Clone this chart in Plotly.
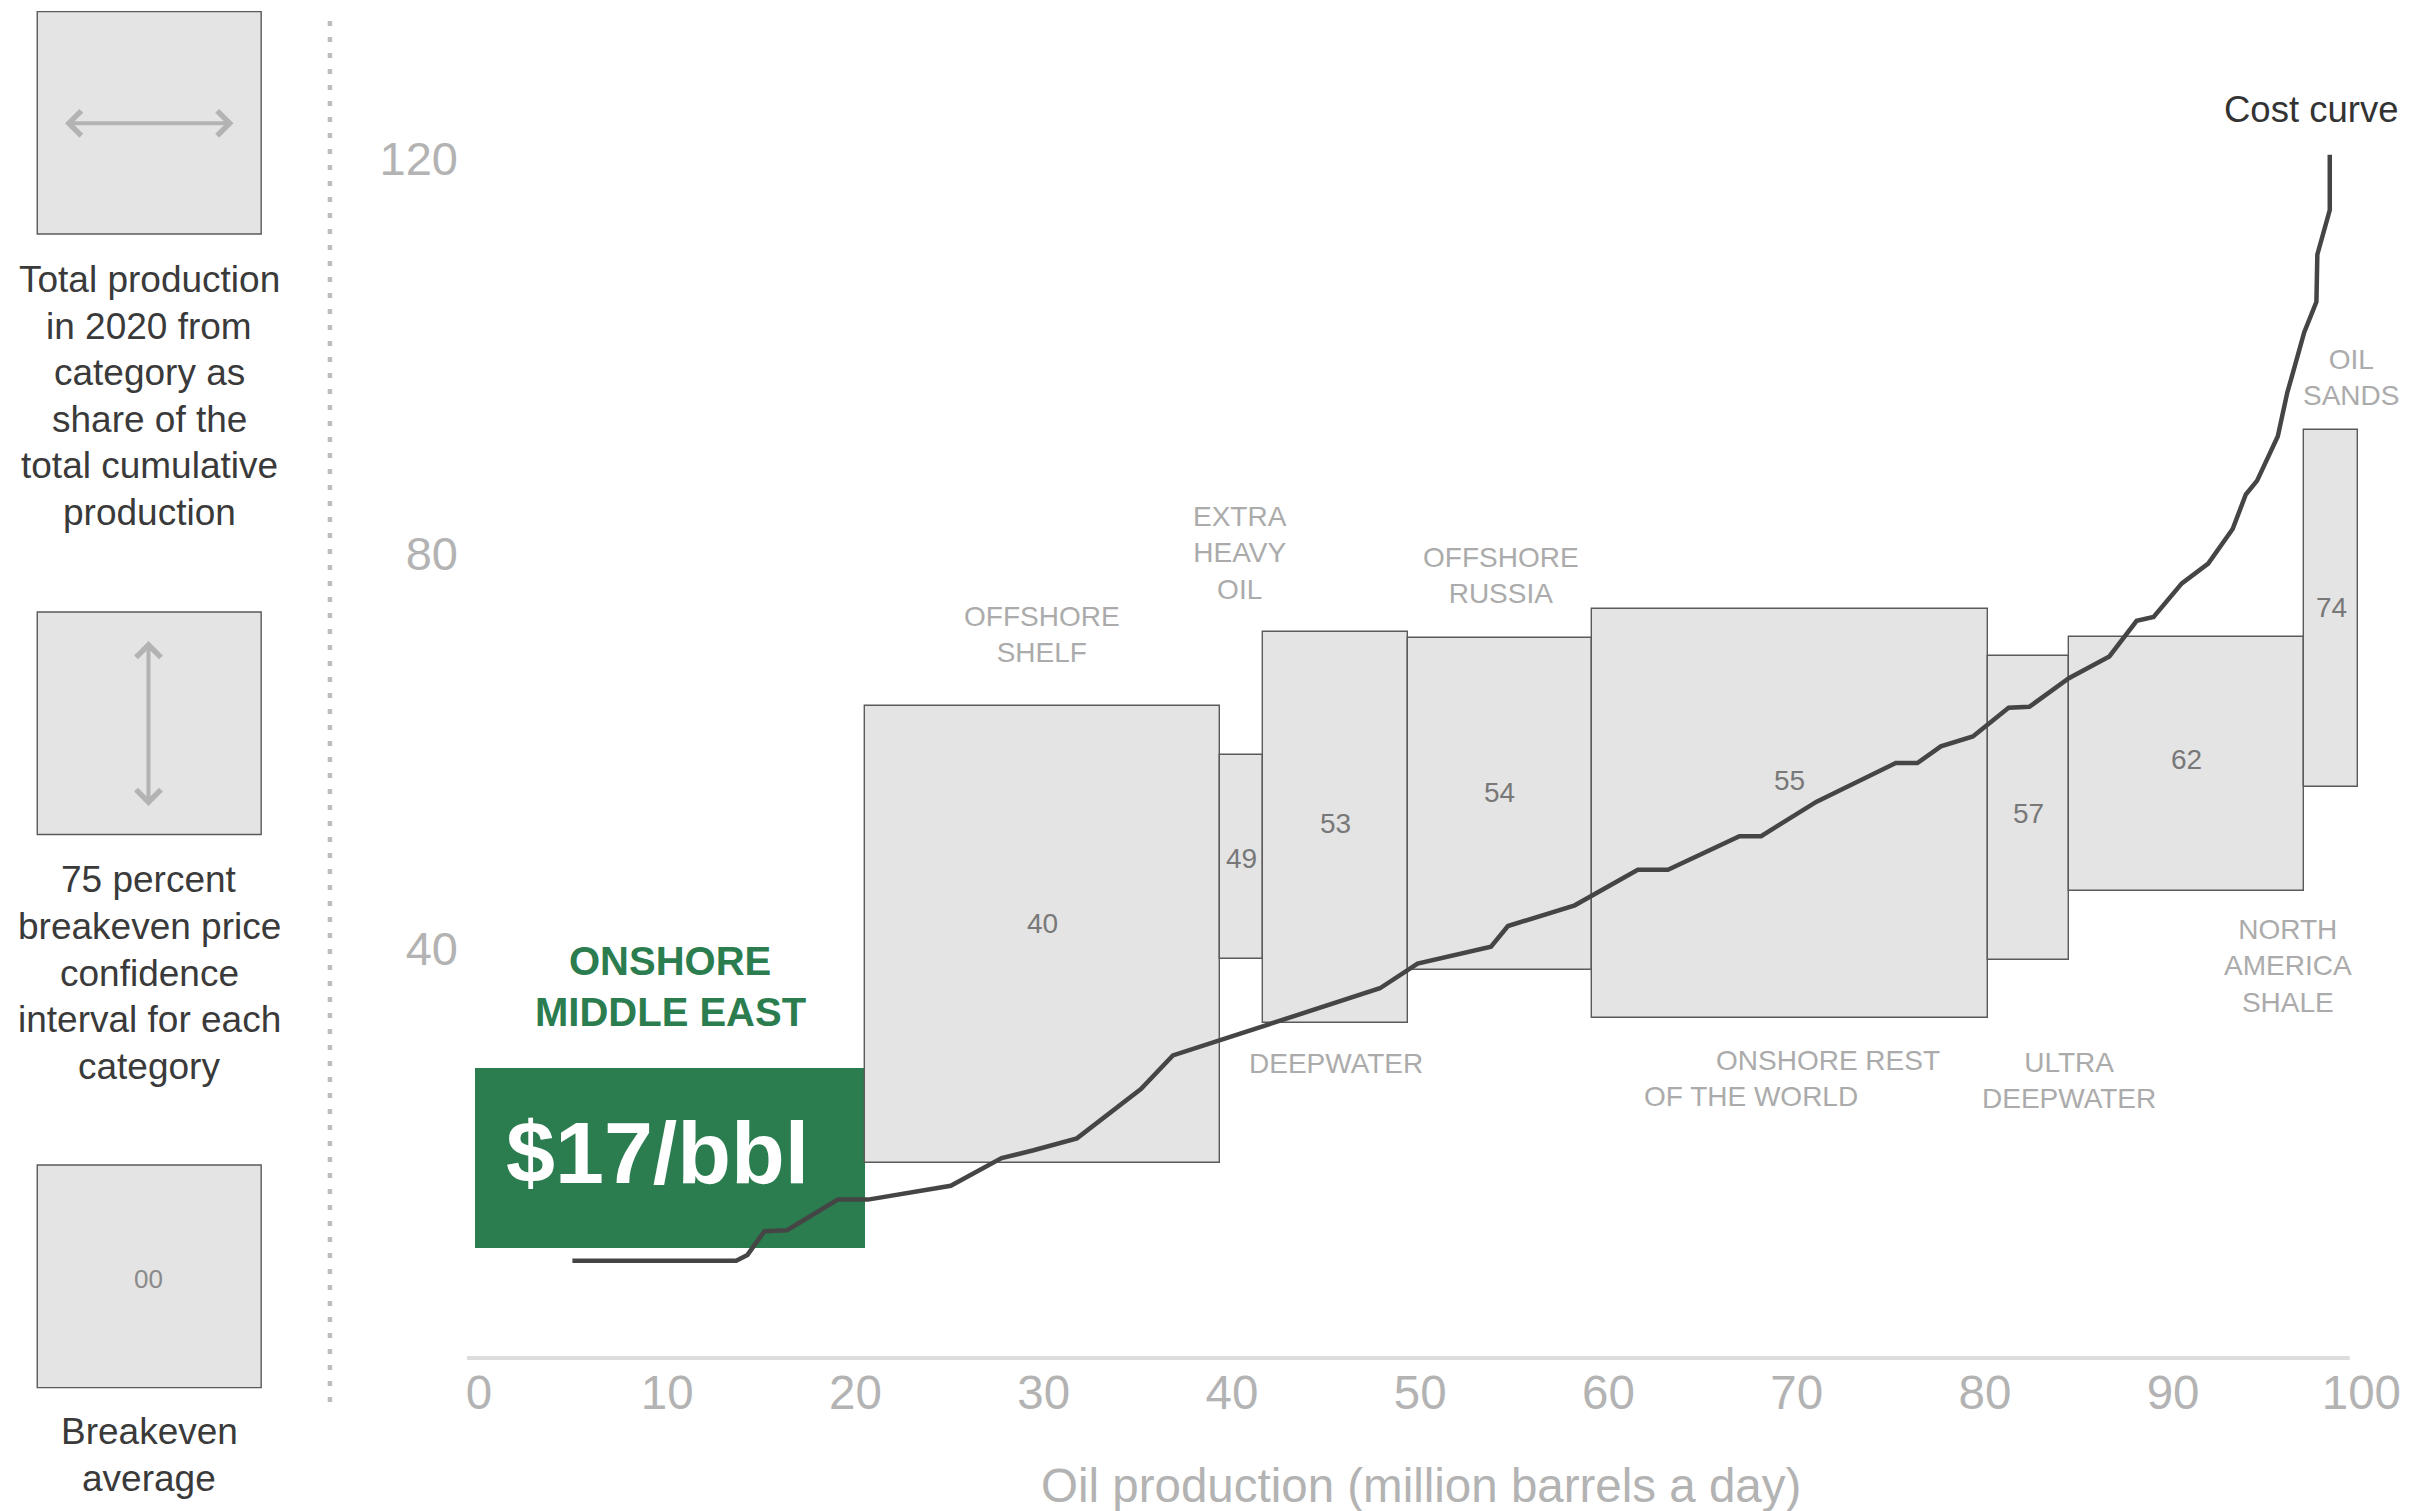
import plotly.graph_objects as go
import numpy as np

# ---------------- data ----------------
categories = ["ONSHORE MIDDLE EAST", "OFFSHORE SHELF", "EXTRA HEAVY OIL", "DEEPWATER",
              "OFFSHORE RUSSIA", "ONSHORE REST OF THE WORLD", "ULTRA DEEPWATER",
              "NORTH AMERICA SHALE", "OIL SANDS"]
production = [20.7, 18.85, 2.27, 7.72, 9.75, 21.07, 4.31, 12.49, 2.84]   # million b/d
production_start = 0.45
ci_low = [9.7, 18.3, 39.0, 32.5, 37.9, 33.0, 38.9, 45.8, 56.4]          # $/bbl
ci_high = [27.9, 64.6, 59.6, 72.1, 71.5, 74.4, 69.6, 71.6, 92.5]
breakeven_avg = [17, 40, 49, 53, 54, 55, 57, 62, 74]

curve_x = [5.6, 14.3, 14.9, 15.8, 17.0, 19.7, 21.3, 25.7, 28.4, 30.1, 32.4, 35.8, 37.5,
           40.1, 42.3, 48.5, 50.5, 54.4, 55.3, 58.85, 62.2, 63.8, 67.6, 68.75, 71.7,
           75.9, 77.05, 78.3, 80.0, 81.9, 83.0, 85.1, 87.25, 88.7, 89.6, 91.1, 92.5,
           93.8, 94.5, 95.1, 96.2, 96.7, 97.0, 97.6, 98.25, 98.3, 98.96, 98.96]
curve_y = [8.4, 8.4, 9.0, 11.4, 11.5, 14.6, 14.6, 16.0, 18.8, 19.6, 20.8, 25.8, 29.2,
           30.8, 32.2, 36.0, 38.5, 40.2, 42.3, 44.4, 48.0, 48.0, 51.4, 51.4, 54.9,
           58.8, 58.8, 60.5, 61.5, 64.4, 64.5, 67.4, 69.6, 73.2, 73.6, 77.0, 79.0,
           82.5, 86.0, 87.4, 91.9, 96.3, 98.3, 102.4, 105.5, 110.3, 114.8, 120.4]

x_ticks = list(range(0, 101, 10))
y_ticks = [40, 80, 120]

# ---------------- layout geometry (page pixels) ----------------
W, H = 2409, 1511
OFF = 8                      # page body margin in front of the figure
WF, HF = W - OFF, H - OFF
L, T = 466.6, 60
PX_PER_X = 18.83
X_MAX = 102
PW = X_MAX * PX_PER_X
PB = 1356
PH = PB - T
PX_PER_Y = 9.876
Y_MIN = -(PB - 1343.8) / PX_PER_Y
Y_MAX = Y_MIN + PH / PX_PER_Y

def px(xp):
    return (xp - L) / PW

def py(yp):
    return (PB - yp) / PH

FONT = "Arial, 'Liberation Sans', sans-serif"
GREEN = "#2b7d4f"
BOX = "#e4e4e4"
EDGE = "#5a5a5a"
LIGHT = "#ababab"
AXIS_TXT = "#b3b3b3"

widths = np.array(production)
starts = production_start + np.concatenate([[0], np.cumsum(widths)[:-1]])
mids = starts + widths / 2
lows = np.array(ci_low)
highs = np.array(ci_high)

fill_colors = [GREEN] + [BOX] * (len(categories) - 1)
line_widths = [0] + [1.4] * (len(categories) - 1)

fig = go.Figure()
fig.add_trace(go.Bar(
    x=mids, y=highs - lows, base=lows, width=widths,
    marker=dict(color=fill_colors, line=dict(color=EDGE, width=line_widths)),
    cliponaxis=False, hoverinfo="skip", showlegend=False,
))
fig.add_trace(go.Scatter(
    x=curve_x, y=curve_y, mode="lines",
    line=dict(color="#454545", width=4.5), hoverinfo="skip", showlegend=False,
    cliponaxis=False,
))

ann = []
# average value labels inside boxes
label_y = [None, 42.6, 49.1, 52.7, 55.8, 57.0, 53.7, 59.2, 74.6]
for i in range(1, len(categories)):
    ann.append(dict(x=mids[i], y=label_y[i], xref="x", yref="y", text=str(breakeven_avg[i]),
                    showarrow=False, font=dict(family=FONT, size=28, color="#787878"),
                    xanchor="center", yanchor="middle"))

# category labels (pixel positions of first line centre)
cat_labels = [
    ("OFFSHORE<br>SHELF", 1041.6, 616.5),
    ("EXTRA<br>HEAVY<br>OIL", 1240.0, 516.5),
    ("DEEPWATER", 1335.5, 1063.5),
    ("OFFSHORE<br>RUSSIA", 1500.5, 558.0),
    ("ONSHORE REST", 1828.0, 1060.5),
    ("OF THE WORLD", 1751.0, 1097.0),
    ("ULTRA<br>DEEPWATER", 2069.5, 1062.5),
    ("NORTH<br>AMERICA<br>SHALE", 2288.0, 930.0),
    ("OIL<br>SANDS", 2351.0, 360.0),
]
for txt, xp, yp in cat_labels:
    ann.append(dict(x=px(xp), y=py(yp - 18), xref="paper", yref="paper", text=txt,
                    showarrow=False, font=dict(family=FONT, size=28, color=LIGHT),
                    xanchor="center", yanchor="top", align="center"))

# highlighted category
for txt, yp in [("ONSHORE", 961.3), ("MIDDLE EAST", 1011.5)]:
    ann.append(dict(x=px(670), y=py(yp), xref="paper", yref="paper", text="<b>%s</b>" % txt,
                    showarrow=False, font=dict(family=FONT, size=40, color=GREEN),
                    xanchor="center", yanchor="middle"))
ann.append(dict(x=px(657.5), y=py(1152.5), xref="paper", yref="paper",
                text="<b>$%d/bbl</b>" % breakeven_avg[0],
                showarrow=False, font=dict(family=FONT, size=88, color="white"),
                xanchor="center", yanchor="middle"))

# cost curve label
ann.append(dict(x=px(2399), y=py(110), xref="paper", yref="paper", text="Cost curve",
                showarrow=False, font=dict(family=FONT, size=36.5, color="#333333"),
                xanchor="right", yanchor="middle", borderpad=0))

# axis title
ann.append(dict(x=px(1421), y=py(1485), xref="paper", yref="paper",
                text="Oil production (million barrels a day)",
                showarrow=False, font=dict(family=FONT, size=47.5, color=AXIS_TXT),
                xanchor="center", yanchor="middle"))

# ---------------- left explanatory legend ----------------
legend_blocks = [
    (["Total production", "in 2020 from", "category as", "share of the",
      "total cumulative", "production"], 279.6),
    (["75 percent", "breakeven price", "confidence", "interval for each", "category"], 880.0),
    (["Breakeven", "average"], 1431.6),
]
for lines, y0 in legend_blocks:
    for k, line in enumerate(lines):
        ann.append(dict(x=px(148.5), y=py(y0 + k * 46.6), xref="paper", yref="paper", text=line,
                        showarrow=False, font=dict(family=FONT, size=37, color="#3a3a3a"),
                        xanchor="center", yanchor="middle"))
ann.append(dict(x=px(148), y=py(1279), xref="paper", yref="paper", text="00",
                showarrow=False, font=dict(family=FONT, size=26, color="#8a8a8a"),
                xanchor="center", yanchor="middle"))
# double arrows
ann.append(dict(x=px(233), y=py(123.3), ax=-170, ay=0, xref="paper", yref="paper",
                axref="pixel", ayref="pixel", text="", showarrow=True, arrowhead=4,
                startarrowhead=4, arrowside="end+start", arrowsize=1.2, startarrowsize=1.2,
                arrowwidth=4, arrowcolor="#b3b3b3"))
ann.append(dict(x=px(148), y=py(641), ax=0, ay=166.5, xref="paper", yref="paper",
                axref="pixel", ayref="pixel", text="", showarrow=True, arrowhead=4,
                startarrowhead=4, arrowside="end+start", arrowsize=1.2, startarrowsize=1.2,
                arrowwidth=4, arrowcolor="#b3b3b3"))

shapes = []
for (y0, y1) in [(11.6, 234.0), (612.0, 834.5), (1165.0, 1387.6)]:
    shapes.append(dict(type="rect", xref="paper", yref="paper",
                       x0=px(36.7), x1=px(260.7), y0=py(y1), y1=py(y0),
                       fillcolor=BOX, line=dict(color=EDGE, width=1.4), layer="below"))
# dotted separator
shapes.append(dict(type="line", xref="paper", yref="paper", x0=px(329.5), x1=px(329.5),
                   y0=py(1402), y1=py(10),
                   line=dict(color="#bdbdbd", width=4.5, dash="5px,11px")))
# x axis baseline (0 .. 100)
shapes.append(dict(type="line", xref="paper", yref="paper",
                   x0=px(L), x1=px(2350), y0=py(1358), y1=py(1358),
                   line=dict(color="#dddddd", width=4), layer="below"))

fig.update_layout(
    width=WF, height=HF,
    margin=dict(l=L - OFF, r=WF - (L - OFF) - PW, t=T - OFF, b=HF - (PB - OFF), pad=0,
                autoexpand=False),
    paper_bgcolor="white", plot_bgcolor="white",
    annotations=ann, shapes=shapes, showlegend=False,
    font=dict(family=FONT),
    bargap=0,
)
fig.update_xaxes(range=[0, X_MAX], tickvals=x_ticks, ticktext=[str(v) for v in x_ticks],
                 showgrid=False, zeroline=False, showline=False, ticks="", automargin=False,
                 tickfont=dict(family=FONT, size=47.5, color=AXIS_TXT),
                 ticklabelshift=12, ticklabelstandoff=4)
fig.update_yaxes(range=[Y_MIN, Y_MAX], tickvals=y_ticks, ticktext=[str(v) for v in y_ticks],
                 showgrid=False, zeroline=False, showline=False, ticks="", automargin=False,
                 tickfont=dict(family=FONT, size=47, color=AXIS_TXT),
                 ticklabelstandoff=8)

fig.write_html("out.html")
